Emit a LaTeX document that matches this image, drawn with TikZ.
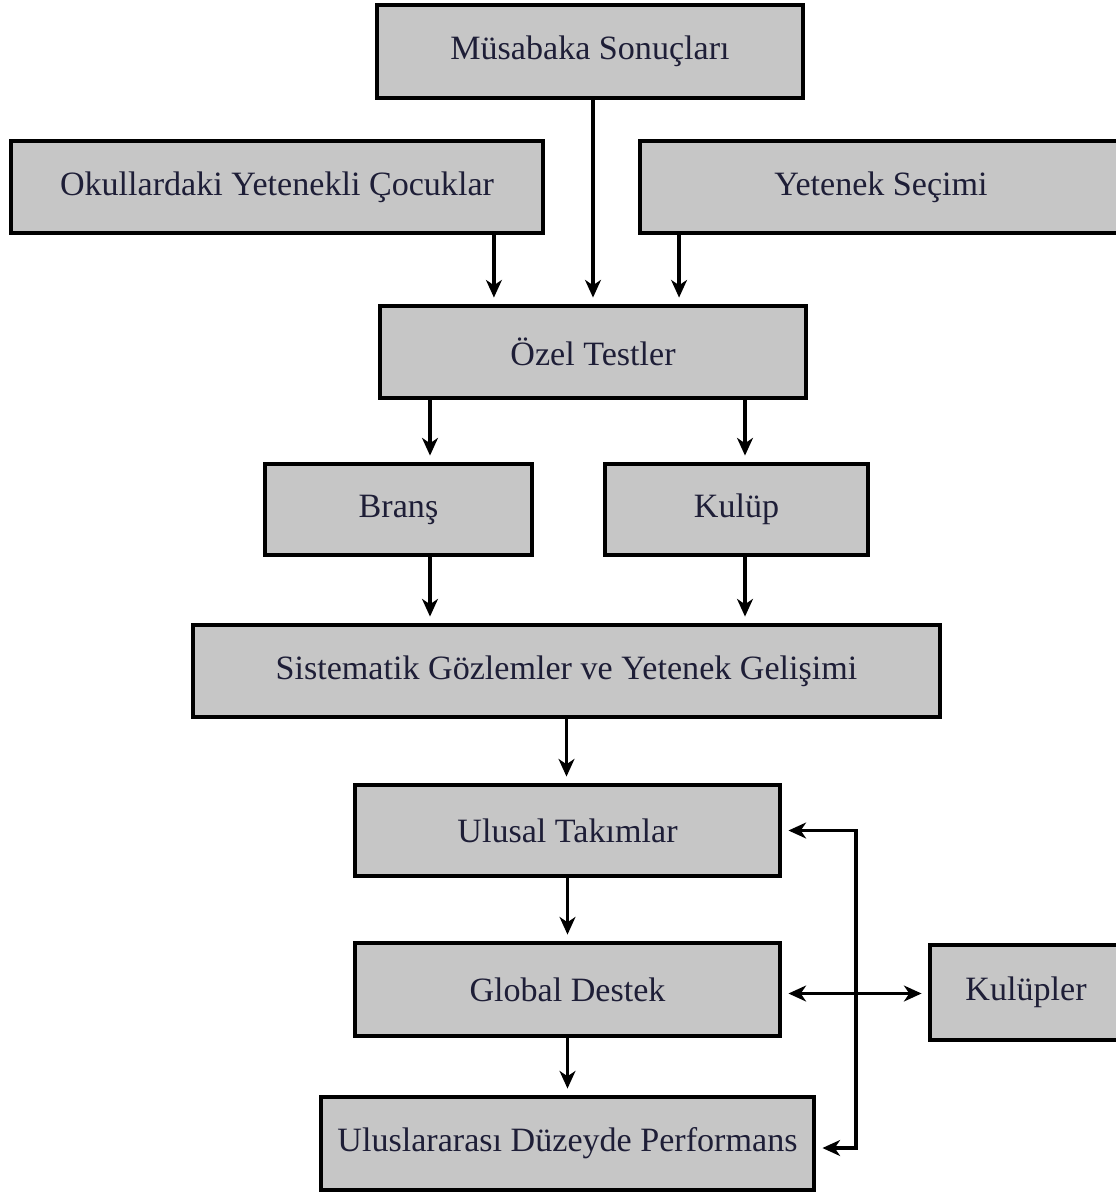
\documentclass[tikz,border=0pt]{standalone}
\usepackage{fontspec}
\setmainfont{Liberation Serif}
\usetikzlibrary{arrows.meta}
\definecolor{boxgray}{RGB}{198,198,198}
\definecolor{boxtext}{RGB}{30,30,55}
\tikzset{
  stage/.style={draw, line width=2.2pt, fill=boxgray, text=boxtext,
    font=\fontsize{19.4}{21}\selectfont, minimum height=1.84cm, inner sep=0pt},
  flow/.style={line width=2pt, -{Stealth[length=10pt,width=9pt,inset=3pt]},
    shorten >=0.13cm},
}
\begin{document}
\begin{tikzpicture}
  \useasboundingbox (0,0) rectangle (22.32,-23.84);

  \node [stage, minimum width=8.52cm, minimum height=1.86cm]
    (musabaka) at (11.80,-1.03) {Müsabaka Sonuçları};
  \node [stage, minimum width=10.64cm]
    (okul) at (5.54,-3.74) {Okullardaki Yetenekli Çocuklar};
  \node [stage, minimum width=9.64cm]
    (secim) at (17.62,-3.74) {Yetenek Seçimi};
  \node [stage, minimum width=8.52cm]
    (ozel) at (11.86,-7.04) {Özel Testler};
  \node [stage, minimum width=5.34cm, minimum height=1.82cm]
    (brans) at (7.97,-10.19) {Branş};
  \node [stage, minimum width=5.26cm, minimum height=1.82cm]
    (kulup) at (14.73,-10.19) {Kulüp};
  \node [stage, minimum width=14.94cm]
    (sistem) at (11.33,-13.42) {Sistematik Gözlemler ve Yetenek Gelişimi};
  \node [stage, minimum width=8.50cm, minimum height=1.82cm]
    (ulusal) at (11.35,-16.61) {Ulusal Takımlar};
  \node [stage, minimum width=8.50cm, minimum height=1.86cm]
    (global) at (11.35,-19.79) {Global Destek};
  \node [stage, minimum width=9.86cm, minimum height=1.86cm]
    (performans) at (11.35,-22.87) {Uluslararası Düzeyde Performans};
  \node [stage, minimum width=3.84cm, minimum height=1.90cm]
    (kulupler) at (20.52,-19.85) {Kulüpler};

  \coordinate (bus) at (17.12,0);
  \coordinate (hub) at ([yshift=-0.08cm]bus |- global.east);

  \draw [flow]
    ([xshift=-1.02cm]okul.south east)
    -- ([xshift=-1.02cm]okul.south east |- ozel.north)
  ;
  \draw [flow]
    ([xshift=0.06cm]musabaka.south)
    -- ([xshift=0.06cm]musabaka.south |- ozel.north)
  ;
  \draw [flow]
    ([xshift=0.82cm]secim.south west)
    -- ([xshift=0.82cm]secim.south west |- ozel.north)
  ;

  \draw [flow]
    ([xshift=0.63cm]brans.north |- ozel.south)
    -- ([xshift=0.63cm]brans.north)
  ;
  \draw [flow]
    ([xshift=0.17cm]kulup.north |- ozel.south)
    -- ([xshift=0.17cm]kulup.north)
  ;
  \draw [flow]
    ([xshift=0.63cm]brans.south)
    -- ([xshift=0.63cm]brans.south |- sistem.north)
  ;
  \draw [flow]
    ([xshift=0.17cm]kulup.south)
    -- ([xshift=0.17cm]kulup.south |- sistem.north)
  ;

  \draw [flow]
    (sistem.south)
    -- (sistem.south |- ulusal.north)
  ;
  \draw [flow]
    (ulusal.south)
    -- (global.north)
  ;
  \draw [flow]
    (global.south)
    -- (performans.north)
  ;

  \draw [flow]
    (hub)
    -- (bus |- ulusal.east)
    -- (ulusal.east)
  ;
  \draw [flow]
    (hub)
    -- ([yshift=-0.09cm]bus |- performans.east)
    -- ([yshift=-0.09cm]performans.east)
  ;
  \draw [flow]
    (hub)
    -- (hub -| global.east)
  ;
  \draw [flow]
    (hub)
    -- (hub -| kulupler.west)
  ;
\end{tikzpicture}
\end{document}
